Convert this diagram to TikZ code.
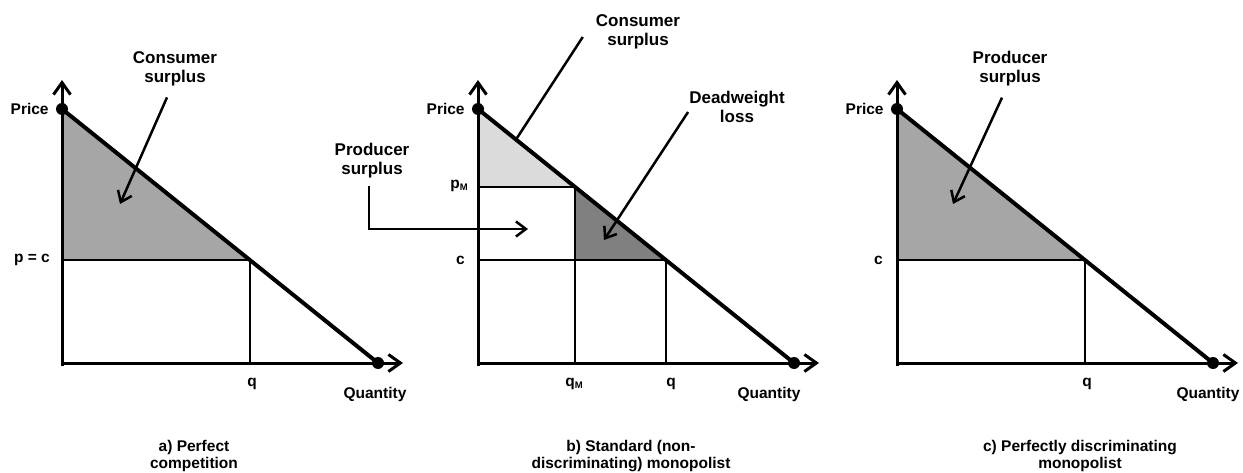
\documentclass[tikz,border=0pt]{standalone}
\usepackage{fontspec}
\setmainfont{Liberation Sans}
\usetikzlibrary{arrows.meta,positioning}

\tikzset{
  axis/.style={line width=3pt, -{Straight Barb[length=12pt,width=17pt]}},
  demand/.style={line width=4pt},
  level/.style={line width=2.8pt},
  thin level/.style={line width=1.5pt},
  note/.style={line width=2.5pt, -{Straight Barb[length=10pt,width=15pt]}},
  tag/.style={font=\fontsize{15.5}{18}\selectfont\bfseries, inner sep=1pt},
  title/.style={font=\fontsize{17}{19}\selectfont\bfseries, align=center, inner sep=1pt},
  caption/.style={font=\fontsize{15.5}{17}\selectfont\bfseries, align=center, inner sep=0pt},
  dot/.style={circle, fill, inner sep=0pt, minimum size=12pt},
}
\newcommand{\msub}{\raisebox{-1.5pt}{\fontsize{9.5}{9.5}\selectfont M}}

\begin{document}
\begin{tikzpicture}[x=1pt, y=1pt]
    \useasboundingbox (0,0) rectangle (1243,472);

    % a) perfect competition
    \begin{scope}[shift={(62,109)}]
        \fill[black!35] (0,254) -- (0,103) -- (187.9,103) -- cycle;
        \draw[level] (0,103) -- (188,103) -- (188,0);
        \draw[demand] (0,254) -- (316,0);
        \draw[axis] (0,-3) -- (0,283);
        \draw[axis] (0,0) -- (341,0);
        \node[dot] (pa) at (0,254) {};
        \node[dot] (qa) at (316,0) {};
        \node[tag, left=6pt of pa] (pricea) {Price};
        \node[tag, anchor=east] (pca) at (-11,103) {p = c};
        \node[tag, anchor=north] (qlaba) at (190,-14) {q};
        \node[tag, anchor=north] (quanta) at (313,-23) {Quantity};
        \node[title] (csa) at (113,294) {Consumer\\surplus};
        \coordinate (csatip) at (58,159);
        \draw[note] ([shift={(-8,-10)}]csa.south) -- (csatip);
        \node[caption] (capa) at (132,-93) {a) Perfect\\competition};
    \end{scope}

    % b) standard monopolist
    \begin{scope}[shift={(478,109)}]
        \fill[black!14] (0,254) -- (0,176) -- (97,176) -- cycle;
        \fill[black!50] (97,176) -- (97,103) -- (187.9,103) -- cycle;
        \draw[thin level] (0,176) -- (97,176);
        \draw[level] (97,176) -- (97,0);
        \draw[level] (0,103) -- (188,103) -- (188,0);
        \draw[demand] (0,254) -- (316,0);
        \draw[axis] (0,-3) -- (0,283);
        \draw[axis] (0,0) -- (341,0);
        \node[dot] (pb) at (0,254) {};
        \node[dot] (qb) at (316,0) {};
        \node[tag, left=6pt of pb] (priceb) {Price};
        \node[tag, anchor=east] (pmb) at (-9,177) {p\msub};
        \node[tag, anchor=east] (cb) at (-12,103) {c};
        \node[tag, anchor=north] (qmb) at (96,-14) {q\msub};
        \node[tag, anchor=north] (qlabb) at (193,-14) {q};
        \node[tag, anchor=north] (quantb) at (291,-23) {Quantity};
        \node[title] (csb) at (160,331) {Consumer\\surplus};
        \coordinate (csbend) at (38,223.5);
        \draw[line width=2.5pt] ([shift={(-12,-5)}]csb.west) -- (csbend);
        \node[title] (dwl) at (259,256) {Deadweight\\loss};
        \coordinate (dwltip) at (126,123);
        \draw[note] ([yshift=-5pt]dwl.west) -- (dwltip);
        \node[title] (psb) at (-106,202) {Producer\\surplus};
        \coordinate (psbtip) at (50,134);
        \draw[note] ([shift={(-3,-6)}]psb.south) |- (psbtip);
        \node[caption] (capb) at (153,-93) {b) Standard (non-\\discriminating) monopolist};
    \end{scope}

    % c) perfectly discriminating monopolist
    \begin{scope}[shift={(897,109)}]
        \fill[black!35] (0,254) -- (0,103) -- (187.9,103) -- cycle;
        \draw[level] (0,103) -- (188,103) -- (188,0);
        \draw[demand] (0,254) -- (316,0);
        \draw[axis] (0,-3) -- (0,283);
        \draw[axis] (0,0) -- (341,0);
        \node[dot] (pc) at (0,254) {};
        \node[dot] (qc) at (316,0) {};
        \node[tag, left=6pt of pc] (pricec) {Price};
        \node[tag, anchor=east] (cc) at (-13,103) {c};
        \node[tag, anchor=north] (qlabc) at (190,-14) {q};
        \node[tag, anchor=north] (quantc) at (311,-23) {Quantity};
        \node[title] (psc) at (113,294) {Producer\\surplus};
        \coordinate (psctip) at (56,159);
        \draw[note] ([shift={(-8,-10)}]psc.south) -- (psctip);
        \node[caption] (capc) at (183,-93) {c) Perfectly discriminating\\monopolist};
    \end{scope}
\end{tikzpicture}
\end{document}
